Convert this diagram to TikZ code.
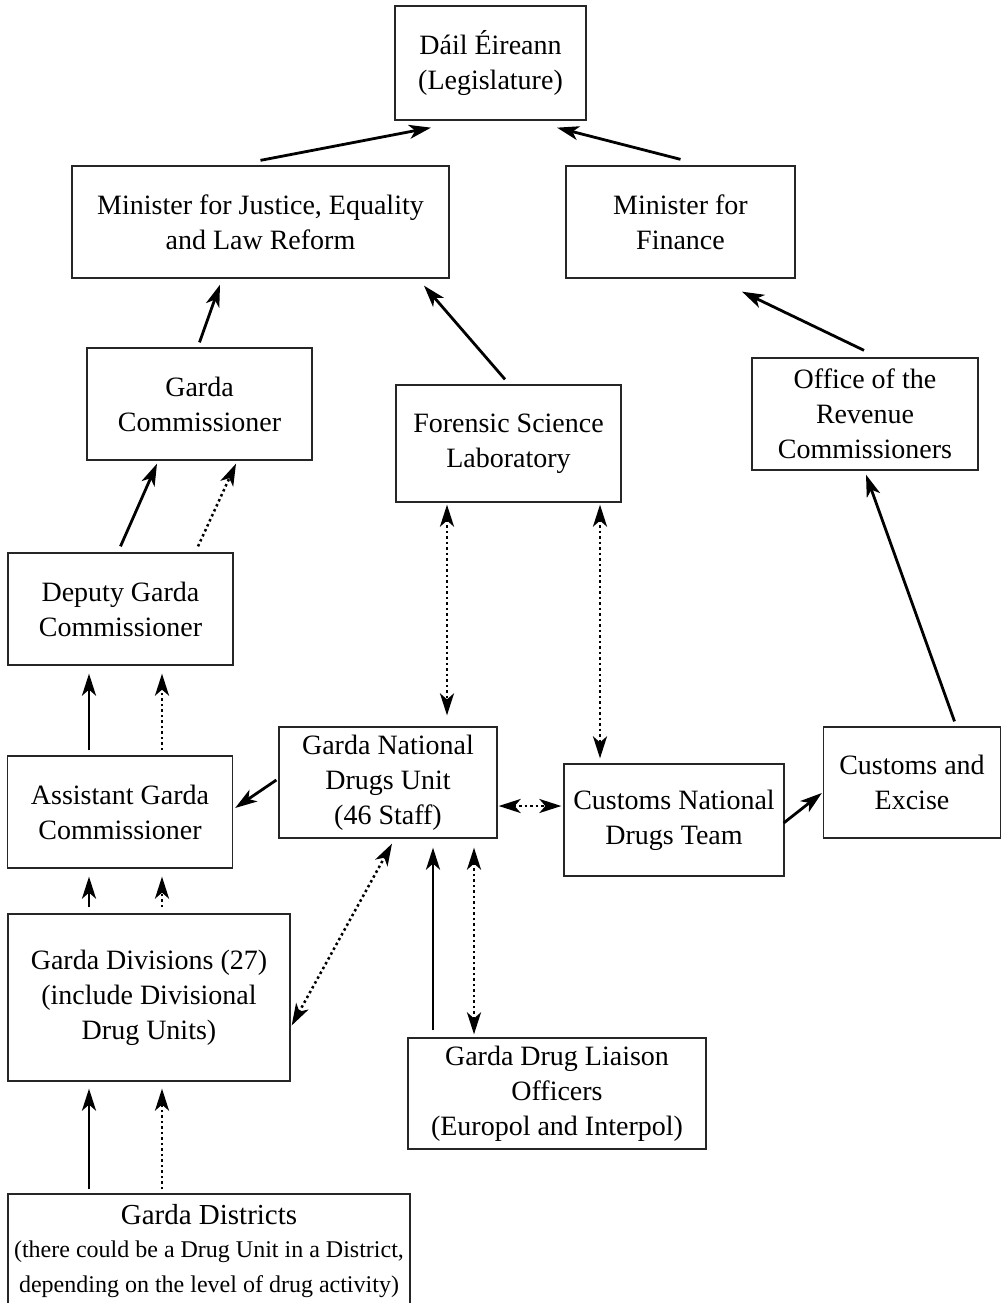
\documentclass[tikz,border=0pt]{standalone}
\usepackage{fontspec}
\setmainfont{Liberation Serif}
\usetikzlibrary{arrows.meta}
\begin{document}
\begin{tikzpicture}[x=1pt,y=-1pt,
  box/.style={draw=black!85, line width=1.3pt, align=center, inner sep=0pt, font=\fontsize{28}{35}\selectfont},
  arr/.style={line width=2.8pt, -{Stealth[length=22pt,width=14pt,inset=6pt]}},
  dotline/.style={line width=2.5pt, dash pattern=on 2.5pt off 3pt},
  dotarr/.style={dotline, -{Stealth[length=22pt,width=14pt,inset=6pt]}},
  dblarr/.style={dotline, {Stealth[length=22pt,width=14pt,inset=6pt]}-{Stealth[length=22pt,width=14pt,inset=6pt]}}
]
\useasboundingbox (0,0) rectangle (1002,1303);

\node[box, minimum width=191pt, minimum height=114pt] (dail) at (490.5,63) {Dáil Éireann\\(Legislature)};
\node[box, minimum width=377pt, minimum height=112pt] (minj) at (260.5,222) {Minister for Justice, Equality\\and Law Reform};
\node[box, minimum width=229pt, minimum height=112pt] (minf) at (680.5,222) {Minister for\\Finance};
\node[box, minimum width=225pt, minimum height=112pt] (gc) at (199.5,404) {Garda\\Commissioner};
\node[box, minimum width=225pt, minimum height=117pt] (fsl) at (508.5,443.5) {Forensic Science\\Laboratory};
\node[box, minimum width=226pt, minimum height=112pt] (orc) at (865,414) {Office of the\\Revenue\\Commissioners};
\node[box, minimum width=225pt, minimum height=112pt] (dgc) at (120.5,609) {Deputy Garda\\Commissioner};
\node[box, minimum width=218pt, minimum height=111pt] (gndu) at (388,782.5) {Garda National\\Drugs Unit\\(46 Staff)};
\node[box, minimum width=225pt, minimum height=112pt] (agc) at (120,812) {Assistant Garda\\Commissioner};
\node[box, minimum width=220pt, minimum height=112pt] (cndt) at (674,820) {Customs National\\Drugs Team};
\node[box, minimum width=177pt, minimum height=111pt] (ce) at (912,782.5) {Customs and\\Excise};
\node[box, minimum width=282pt, minimum height=167pt] (gdiv) at (149,997.5) {Garda Divisions (27)\\(include Divisional\\Drug Units)};
\node[box, minimum width=298pt, minimum height=111pt] (gdl) at (557,1093.5) {Garda Drug Liaison\\Officers\\(Europol and Interpol)};
\node[box, minimum width=402pt, minimum height=114pt] (gdist) at (209,1251) {{\fontsize{29}{36}\selectfont Garda Districts}\\[-2pt]{\fontsize{24}{33}\selectfont (there could be a Drug Unit in a District,}\\{\fontsize{24}{33}\selectfont depending on the level of drug activity)}};

% top
\draw[arr] ([yshift=5pt]minj.north) -- ([xshift=-59.5pt,yshift=-7pt]dail.south);
\draw[arr] ([yshift=6pt]minf.north) -- ([xshift=66.5pt,yshift=-7pt]dail.south);
\draw[arr] ([yshift=5pt]gc.north) -- ([xshift=-40.5pt,yshift=-6pt]minj.south);
\draw[arr] ([xshift=-3.5pt,yshift=5pt]fsl.north) -- ([xshift=163.5pt,yshift=-7pt]minj.south);
\draw[arr] ([xshift=-1pt,yshift=7pt]orc.north) -- ([xshift=61.5pt,yshift=-13pt]minf.south);

% left chain
\draw[arr] ([yshift=6pt]dgc.north) -- ([xshift=-42.5pt,yshift=-3pt]gc.south);
\draw[dotarr] ([xshift=77.5pt,yshift=6pt]dgc.north) -- ([xshift=36.5pt,yshift=-3pt]gc.south);
\draw[arr] ([xshift=-31pt,yshift=5pt]agc.north) -- ([xshift=-31.5pt,yshift=-8pt]dgc.south);
\draw[dotarr] ([xshift=42pt,yshift=5pt]agc.north) -- ([xshift=41.5pt,yshift=-8pt]dgc.south);
\draw[arr] ([xshift=-60pt,yshift=6pt]gdiv.north) -- ([xshift=-31pt,yshift=-8pt]agc.south);
\draw[dotarr] ([xshift=13pt,yshift=6pt]gdiv.north) -- ([xshift=42pt,yshift=-8pt]agc.south);
\draw[arr] ([xshift=-120pt,yshift=4pt]gdist.north) -- ([xshift=-60pt,yshift=-7pt]gdiv.south);
\draw[dotarr] ([xshift=-47pt,yshift=4pt]gdist.north) -- ([xshift=13pt,yshift=-7pt]gdiv.south);

% middle
\draw[arr] ([xshift=-2pt,yshift=2.5pt]gndu.west) -- ([xshift=2pt,yshift=4pt]agc.east);
\draw[dblarr] ([xshift=1pt,yshift=-23.5pt]gndu.east) -- ([xshift=-2pt,yshift=14pt]cndt.west);
\draw[dblarr] ([xshift=-61.5pt,yshift=-2pt]fsl.south) -- ([xshift=59pt,yshift=11pt]gndu.north);
\draw[dblarr] ([xshift=91.5pt,yshift=-2pt]fsl.south) -- ([xshift=-74pt,yshift=5pt]cndt.north);
\draw[arr] ([xshift=-1pt,yshift=-3pt]cndt.east) -- ([xshift=-1pt,yshift=-10.5pt]ce.west);
\draw[arr] ([xshift=42.5pt,yshift=5pt]ce.north) -- ([xshift=1pt,yshift=-4pt]orc.south);
\draw[dblarr] ([xshift=1pt,yshift=-28pt]gdiv.east) -- ([xshift=4pt,yshift=-5pt]gndu.south);
\draw[arr] ([xshift=-124pt,yshift=7pt]gdl.north) -- ([xshift=45pt,yshift=-9pt]gndu.south);
\draw[dblarr] ([xshift=-83pt,yshift=3pt]gdl.north) -- ([xshift=86pt,yshift=-9pt]gndu.south);
\end{tikzpicture}
\end{document}
